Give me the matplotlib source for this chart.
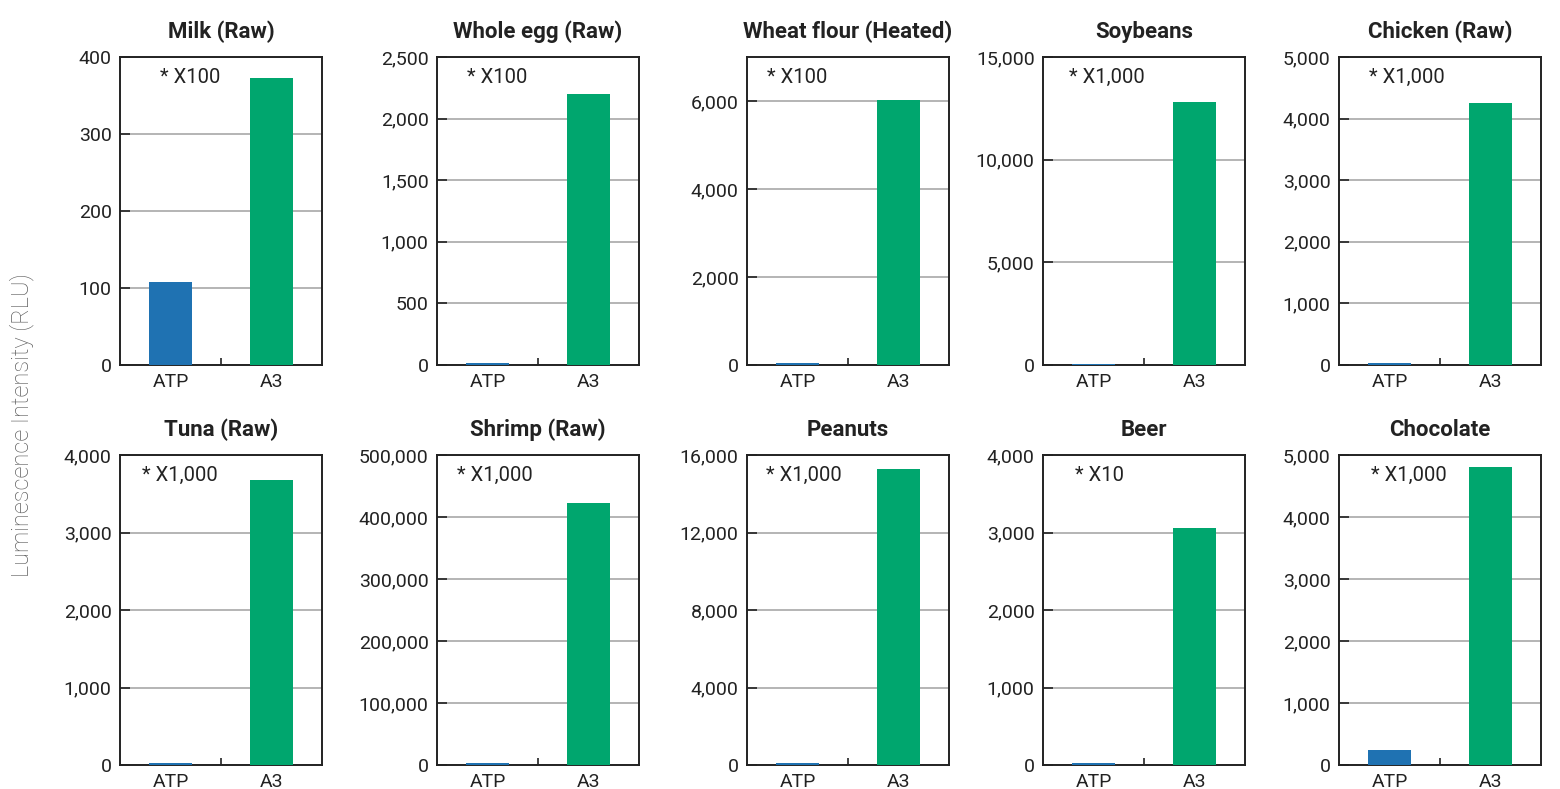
import numpy as np
import matplotlib
matplotlib.use("Agg")
import matplotlib.pyplot as plt
from matplotlib.ticker import FuncFormatter, FixedLocator

plt.rcParams['font.family'] = ['Roboto', 'DejaVu Sans']

titles = ["Milk (Raw)", "Whole egg (Raw)", "Wheat flour (Heated)", "Soybeans", "Chicken (Raw)",
          "Tuna (Raw)", "Shrimp (Raw)", "Peanuts", "Beer", "Chocolate"]
categories = ["ATP", "A3"]
atp_values = [108, 20, 50, 60, 30, 25, 4000, 100, 30, 250]
a3_values = [373, 2200, 6020, 12800, 4250, 3675, 422000, 15300, 3060, 4800]
y_max = [400, 2500, 7000, 15000, 5000, 4000, 500000, 16000, 4000, 5000]
y_ticks = [[0, 100, 200, 300, 400],
           [0, 500, 1000, 1500, 2000, 2500],
           [0, 2000, 4000, 6000],
           [0, 5000, 10000, 15000],
           [0, 1000, 2000, 3000, 4000, 5000],
           [0, 1000, 2000, 3000, 4000],
           [0, 100000, 200000, 300000, 400000, 500000],
           [0, 4000, 8000, 12000, 16000],
           [0, 1000, 2000, 3000, 4000],
           [0, 1000, 2000, 3000, 4000, 5000]]
multipliers = ["* X100", "* X100", "* X100", "* X1,000", "* X1,000",
               "* X1,000", "* X1,000", "* X1,000", "* X10", "* X1,000"]
note_x = [0.2, 0.15, 0.1, 0.13, 0.15, 0.11, 0.1, 0.095, 0.16, 0.16]

blue = "#1f72b2"
green = "#00a66e"

W, H = 1560, 789
fig = plt.figure(figsize=(15.6, 7.89), dpi=100)

lefts = [120, 437, 747, 1043, 1339]
ax_w = 202
rows = [(57, 365), (455, 765)]

for i in range(10):
    r, c = divmod(i, 5)
    top, bot = rows[r]
    ax = fig.add_axes([lefts[c] / W, 1 - bot / H, ax_w / W, (bot - top) / H])
    ax.bar([0, 1], [atp_values[i], a3_values[i]], width=0.43, color=[blue, green], zorder=3)
    ax.set_xlim(-0.5, 1.5)
    ax.set_ylim(0, y_max[i])
    ax.yaxis.set_major_locator(FixedLocator(y_ticks[i]))
    ax.yaxis.set_major_formatter(FuncFormatter(lambda v, p: f"{int(v):,}"))
    ax.grid(axis='y', color='#a0a0a0', linewidth=1.1, zorder=0)
    ax.set_xticks([0, 1])
    ax.set_xticklabels(categories)
    ax.set_xticks([0.5], minor=True)
    ax.tick_params(axis='x', which='major', length=0, pad=6, labelsize=14, labelcolor='#222222')
    ax.tick_params(axis='x', which='minor', direction='in', length=5, width=1.2, color='#222222')
    ax.tick_params(axis='y', direction='in', length=7, width=1.2, color='#222222',
                   labelsize=14, labelcolor='#222222', pad=6)
    for s in ax.spines.values():
        s.set_color('#222222')
        s.set_linewidth(1.4)
    ax.set_title(titles[i], fontsize=16, fontweight='bold', color='#222222', pad=14)
    ax.text(note_x[i], 0.935, multipliers[i], transform=ax.transAxes, fontsize=14.5,
            color='#222222', va='center', ha='left')

fig.text(22 / W, 1 - 425 / H, "Luminescence Intensity (RLU)", rotation=90, fontsize=17,
         color='#606060', fontweight='light', va='center', ha='center')

fig.savefig("out.png", dpi=100)
